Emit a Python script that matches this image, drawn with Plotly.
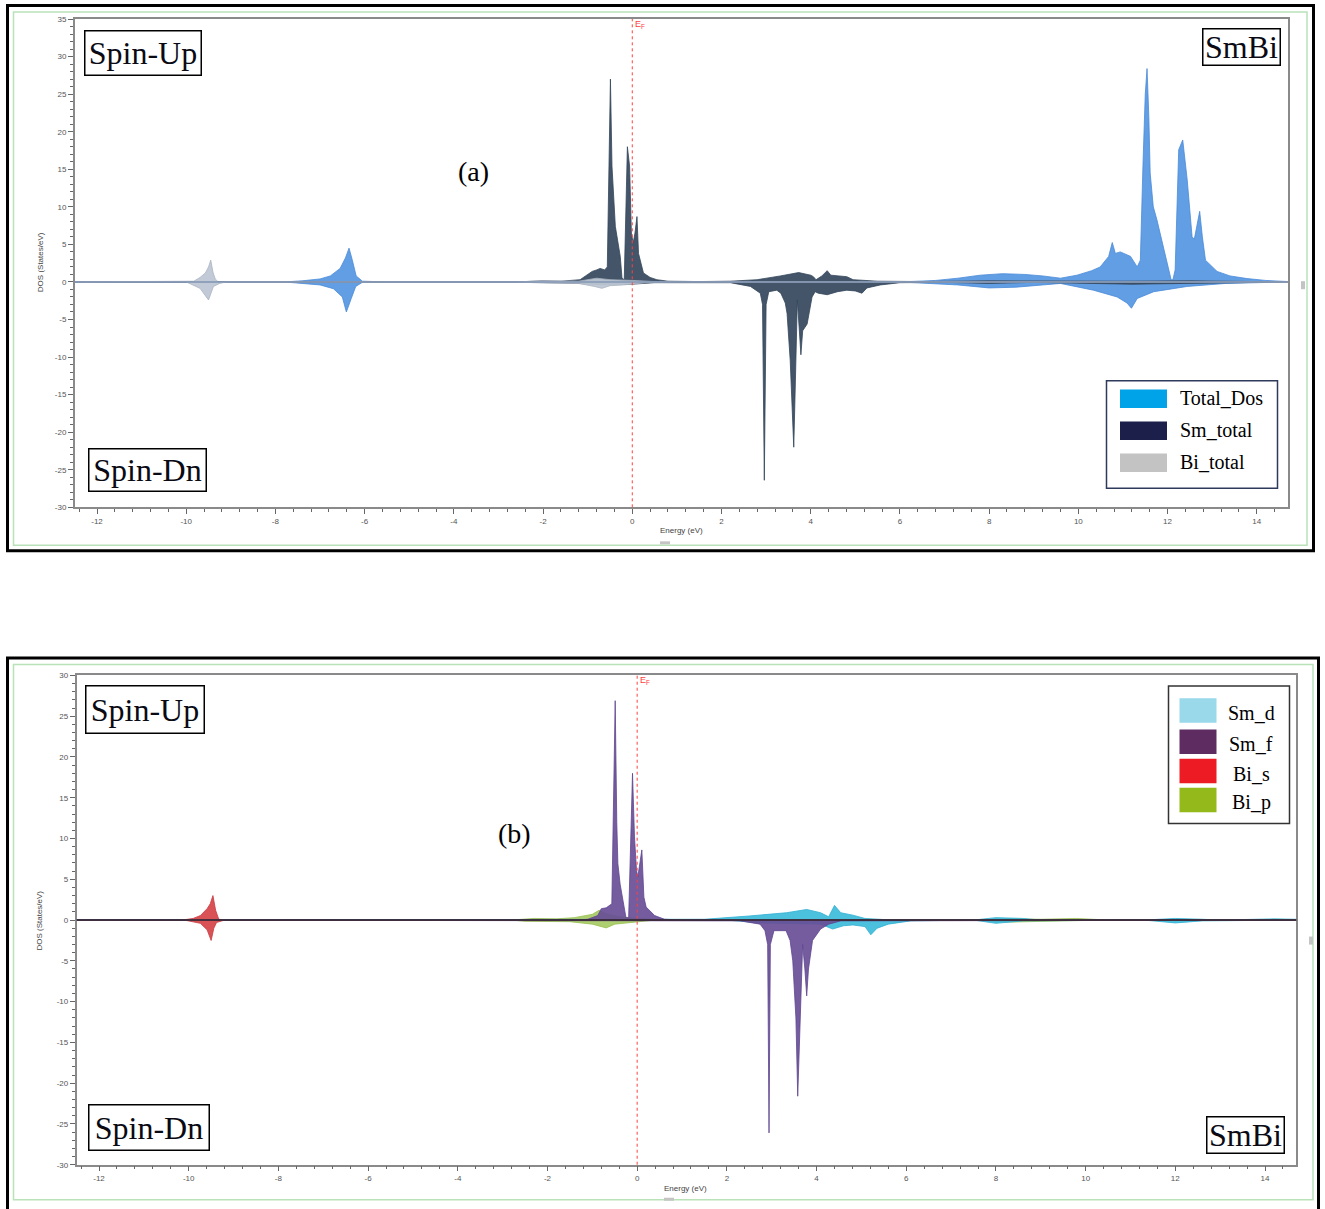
import plotly.graph_objects as go

# ---------------- data ----------------
# Panel (a): spin-up (positive) and spin-down (negative) DOS, states/eV
TOTAL_UP_E = [-12.5, -7.8, -7.4, -7.0, -6.77, -6.55, -6.43, -6.35, -6.28, -6.19, -6.05, -5.5,
              6.0, 6.8, 7.3, 7.8, 8.3, 8.8, 9.2, 9.6, 9.97, 10.3, 10.49, 10.68, 10.76, 10.83, 10.94,
              11.17, 11.32, 11.39, 11.45, 11.5, 11.54, 11.58, 11.61, 11.68, 11.76, 11.87, 11.98,
              12.08, 12.12, 12.17, 12.25, 12.34, 12.44, 12.55, 12.6, 12.66, 12.72, 12.78, 12.85,
              13.11, 13.4, 13.78, 14.2, 14.7]
TOTAL_UP = [0, 0, 0.15, 0.4, 0.8, 1.8, 3.2, 4.5, 3.0, 0.8, 0.1, 0,
            0, 0.2, 0.5, 0.9, 1.1, 1.0, 0.8, 0.5, 0.9, 1.5, 2.0, 3.4, 5.25, 3.8, 4.0,
            3.4, 2.0, 2.9, 15.8, 25.0, 28.4, 22.0, 14.5, 10.0, 8.3, 5.6, 2.9,
            0.3, 0.3, 1.6, 17.6, 18.9, 13.6, 6.0, 5.7, 7.5, 9.4, 6.0, 2.9,
            1.4, 0.8, 0.45, 0.2, 0.05]
TOTAL_DN_E = [-12.5, -7.8, -7.0, -6.7, -6.5, -6.41, -6.3, -6.2, -6.05, -5.5,
              6.0, 6.8, 7.3, 8.0, 8.6, 9.2, 9.6, 10.34, 10.87, 11.09, 11.19, 11.32, 11.69,
              12.44, 13.3, 14.0, 14.7]
TOTAL_DN = [0, 0, -0.4, -0.9, -2.0, -4.0, -2.2, -0.6, -0.05, 0,
            0, -0.2, -0.4, -0.8, -0.7, -0.4, -0.2, -1.1, -2.0, -2.8, -3.5, -2.2, -1.3,
            -0.6, -0.2, -0.1, 0]

SM_UP_E = [-12.5, -2.6, -2.0, -1.6, -1.17, -0.9, -0.8, -0.72, -0.62, -0.56, -0.49, -0.455,
           -0.38, -0.27, -0.23, -0.18, -0.11, -0.06, -0.02, 0.02, 0.06, 0.105, 0.14, 0.25,
           0.4, 0.55, 0.8, 1.5, 2.2, 2.8, 3.32, 3.73, 4.0, 4.06, 4.12, 4.25, 4.37, 4.45,
           4.81, 4.95, 5.5, 6.5, 8.0, 9.0, 11.0, 12.5, 14.7]
SM_UP = [0, 0, 0.15, 0.1, 0.3, 1.4, 1.6, 1.8, 1.6, 2.0, 27.0, 15.4,
         7.4, 3.4, 0.5, 0.3, 18.0, 15.4, 6.5, 5.2, 6.5, 8.7, 3.8, 1.2,
         0.6, 0.3, 0.1, 0.05, 0.1, 0.3, 0.8, 1.25, 0.9, 0.7, 0.3, 0.8, 1.5, 0.9,
         0.7, 0.3, 0.1, 0.05, 0.15, 0.1, 0.1, 0.15, 0]
SM_DN_E = [-12.5, -2.5, -1.2, -0.7, -0.3, 0.0, 0.5, 1.5, 2.2, 2.65, 2.87, 2.92, 2.96, 3.0,
           3.06, 3.24, 3.33, 3.43, 3.47, 3.54, 3.60, 3.62, 3.65, 3.685, 3.70, 3.74, 3.78,
           3.82, 3.92, 4.03, 4.1, 4.17, 4.37, 4.6, 4.81, 5.0, 5.15, 5.26, 5.56, 6.0, 7.0,
           8.0, 9.0, 11.2, 12.5, 14.7]
SM_DN = [0, 0, -0.2, -0.4, -0.3, -0.3, -0.1, -0.05, -0.1, -0.6, -1.5, -3.0, -26.4, -3.0,
         -1.3, -1.1, -1.5, -2.8, -4.2, -10.4, -19.3, -22.0, -14.8, -6.0, -2.4, -6.0, -9.7,
         -6.5, -5.6, -2.0, -1.3, -1.5, -1.7, -1.3, -1.1, -1.2, -1.5, -0.8, -0.4, -0.1, -0.05,
         -0.2, -0.05, -0.3, -0.2, 0]

BI_UP_E = [-12.5, -10.02, -9.83, -9.69, -9.57, -9.50, -9.45, -9.40, -9.35, -9.28,
           -2.6, -2.0, -1.2, -0.8, -0.5, 0.0, 0.5, 1.0, 14.7]
BI_UP = [0, 0, 0.1, 0.6, 1.2, 2.0, 2.9, 1.3, 0.4, 0,
         0, 0.15, 0.1, 0.5, 0.3, 0.2, 0.05, 0, 0]
BI_DN_E = [-12.5, -10.0, -9.69, -9.5, -9.39, -9.25, -9.1,
           -2.6, -2.0, -1.2, -0.85, -0.68, -0.5, -0.2, 0.3, 1.0, 14.7]
BI_DN = [0, 0, -0.85, -2.4, -0.6, -0.2, 0,
         0, -0.15, -0.2, -0.6, -0.85, -0.5, -0.4, -0.1, 0, 0]

# Panel (b): orbital projected DOS
SMD_UP_E = [-12.5, 1.5, 2.5, 3.33, 3.78, 4.09, 4.27, 4.40, 4.54, 4.81, 5.08, 5.7,
            7.5, 8.0, 8.6, 9.0, 11.3, 12.0, 12.6, 13.0, 14.2, 14.7]
SMD_UP = [0, 0.1, 0.5, 0.9, 1.3, 0.9, 0.4, 1.8, 0.9, 0.6, 0.2, 0,
          0, 0.3, 0.2, 0, 0, 0.2, 0.1, 0, 0.15, 0.1]
SMD_DN_E = [-12.5, 2.0, 2.74, 3.5, 4.09, 4.36, 4.6, 4.81, 5.08, 5.21, 5.35, 5.6, 6.1,
            7.5, 8.0, 8.6, 11.3, 12.0, 12.6, 14.7]
SMD_DN = [0, 0, -0.35, -0.4, -0.5, -1.1, -0.7, -0.6, -0.8, -1.8, -1.0, -0.5, -0.1,
          0, -0.4, -0.1, 0, -0.35, -0.1, 0]

SMF_UP_E = [-12.5, -1.3, -1.1, -0.88, -0.80, -0.69, -0.565, -0.49, -0.455, -0.43, -0.38,
            -0.25, -0.19, -0.104, -0.06, -0.015, 0.015, 0.104, 0.15, 0.2, 0.39, 0.61, 1.0, 14.7]
SMF_UP = [0, 0, 0.1, 0.55, 1.4, 1.5, 2.0, 26.9, 12.0, 6.9, 4.4,
          0.3, 0.3, 18.0, 10.2, 6.1, 5.3, 8.6, 2.8, 1.6, 0.55, 0.1, 0, 0]
SMF_DN_E = [-12.5, 2.3, 2.74, 2.85, 2.91, 2.94, 2.97, 3.05, 3.32, 3.41, 3.47, 3.54, 3.58,
            3.62, 3.66, 3.69, 3.74, 3.78, 3.82, 3.91, 4.09, 4.27, 4.54, 14.7]
SMF_DN = [0, -0.1, -0.5, -1.3, -3.0, -26.1, -3.0, -1.3, -1.3, -2.5, -5.0, -12.0, -21.6,
          -14.0, -6.0, -3.0, -6.0, -9.3, -6.0, -2.5, -1.1, -0.5, -0.1, 0]

BIS_UP_E = [-12.5, -10.15, -9.9, -9.74, -9.59, -9.52, -9.46, -9.40, -9.33, -9.2, 14.7]
BIS_UP = [0, 0, 0.2, 0.55, 1.4, 2.0, 3.0, 1.2, 0.1, 0, 0]
BIS_DN_E = [-12.5, -10.1, -9.74, -9.59, -9.5, -9.44, -9.38, -9.2, 14.7]
BIS_DN = [0, 0, -0.4, -1.2, -2.5, -1.0, -0.3, 0, 0]

BIP_UP_E = [-12.5, -2.8, -2.3, -1.8, -1.4, -1.0, -0.85, -0.7, -0.4, 0.0, 0.5,
            7.5, 8.3, 9.0, 9.8, 10.5, 14.7]
BIP_UP = [0, 0, 0.2, 0.15, 0.3, 0.7, 1.2, 0.8, 0.4, 0.2, 0,
          0, 0.15, 0.1, 0.2, 0, 0]
BIP_DN_E = [-12.5, -2.8, -2.5, -1.5, -1.0, -0.69, -0.5, -0.1, 0.4,
            7.5, 8.3, 9.5, 10.5, 14.7]
BIP_DN = [0, 0, -0.15, -0.2, -0.5, -0.96, -0.5, -0.3, 0,
          0, -0.25, -0.1, 0, 0]

X_TICKS = [-12, -10, -8, -6, -4, -2, 0, 2, 4, 6, 8, 10, 12, 14]
Y_TICKS_A = [35, 30, 25, 20, 15, 10, 5, 0, -5, -10, -15, -20, -25, -30]
Y_TICKS_B = [30, 25, 20, 15, 10, 5, 0, -5, -10, -15, -20, -25, -30]

LEGEND_A = ["Total_Dos", "Sm_total", "Bi_total"]
LEGEND_A_COLORS = ["#00A2E8", "#1B1F4A", "#C3C3C3"]
LEGEND_B = ["Sm_d", "Sm_f", "Bi_s", "Bi_p"]
LEGEND_B_COLORS = ["#99D9EA", "#5F2C62", "#ED1C24", "#93BA1A"]

# ---------------- figure ----------------
# the plot div is pinned to the page corner (see post_script); measured mapping of the
# capture: y_capture = OFF_Y + SCALE_Y * y_figure
OFF_X = 0
OFF_Y, SCALE_Y = 4.0, 0.992
W, H = 1325, 1219


def px(x):
    return (x - OFF_X) / W


def py(y):
    return 1 - ((y - OFF_Y) / SCALE_Y) / H


def area(x, y, fill, line, xa, ya):
    return go.Scatter(x=x, y=y, mode="lines", fill="tozeroy", fillcolor=fill,
                      line=dict(color=line, width=0.8), xaxis=xa, yaxis=ya,
                      showlegend=False, hoverinfo="skip")


fig = go.Figure()
# panel (a)
TOT_F, TOT_L = "rgba(84,150,226,0.92)", "#4a8ad8"
SM_F, SM_L = "rgba(58,76,98,0.95)", "#34465a"
BI_F, BI_L = "rgba(190,199,212,0.95)", "#aab4c2"
fig.add_trace(area(TOTAL_UP_E, TOTAL_UP, TOT_F, TOT_L, "x", "y"))
fig.add_trace(area(TOTAL_DN_E, TOTAL_DN, TOT_F, TOT_L, "x", "y"))
fig.add_trace(area(SM_UP_E, SM_UP, SM_F, SM_L, "x", "y"))
fig.add_trace(area(SM_DN_E, SM_DN, SM_F, SM_L, "x", "y"))
fig.add_trace(area(BI_UP_E, BI_UP, BI_F, BI_L, "x", "y"))
fig.add_trace(area(BI_DN_E, BI_DN, BI_F, BI_L, "x", "y"))
# panel (b)
BIP_F, BIP_L = "rgba(165,202,95,0.9)", "#98c050"
SMD_F, SMD_L = "rgba(56,186,218,0.9)", "#2eaed0"
SMF_F, SMF_L = "rgba(104,78,150,0.92)", "#5e4590"
BIS_F, BIS_L = "rgba(214,68,72,0.92)", "#c83a40"
fig.add_trace(area(BIP_UP_E, BIP_UP, BIP_F, BIP_L, "x2", "y2"))
fig.add_trace(area(BIP_DN_E, BIP_DN, BIP_F, BIP_L, "x2", "y2"))
fig.add_trace(area(SMD_UP_E, SMD_UP, SMD_F, SMD_L, "x2", "y2"))
fig.add_trace(area(SMD_DN_E, SMD_DN, SMD_F, SMD_L, "x2", "y2"))
fig.add_trace(area(SMF_UP_E, SMF_UP, SMF_F, SMF_L, "x2", "y2"))
fig.add_trace(area(SMF_DN_E, SMF_DN, SMF_F, SMF_L, "x2", "y2"))
fig.add_trace(area(BIS_UP_E, BIS_UP, BIS_F, BIS_L, "x2", "y2"))
fig.add_trace(area(BIS_DN_E, BIS_DN, BIS_F, BIS_L, "x2", "y2"))

tickfont = dict(size=8, color="#555", family="Liberation Sans, Arial")
axis_common = dict(showgrid=False, zeroline=False, showline=True, linecolor="#8a8a8a",
                   linewidth=1.5, mirror=True, ticks="outside", ticklen=5, tickwidth=1,
                   tickcolor="#666", tickfont=tickfont, layer="above traces")
xcommon = dict(axis_common, tickvals=X_TICKS, ticktext=[str(v) for v in X_TICKS],
               range=[-12.5, 14.7],
               minor=dict(dtick=0.4, tick0=0, ticklen=3, tickcolor="#666", ticks="outside"))

fig.update_layout(
    width=W, height=H, margin=dict(l=0, r=0, t=0, b=0),
    paper_bgcolor="white", plot_bgcolor="white", showlegend=False,
    xaxis=dict(xcommon, domain=[px(74.7), px(1288)], anchor="y"),
    yaxis=dict(axis_common, domain=[py(507), py(19)], range=[-30, 35], anchor="x",
               tickvals=Y_TICKS_A, ticktext=[str(v) for v in Y_TICKS_A],
               minor=dict(dtick=1, tick0=0, ticklen=3, tickcolor="#666", ticks="outside")),
    xaxis2=dict(xcommon, domain=[px(76.6), px(1296.4)], anchor="y2"),
    yaxis2=dict(axis_common, domain=[py(1164), py(675)], range=[-30, 30], anchor="x2",
                tickvals=Y_TICKS_B, ticktext=[str(v) for v in Y_TICKS_B],
                minor=dict(dtick=1, tick0=0, ticklen=3, tickcolor="#666", ticks="outside")),
)


def prect(x0, y0, x1, y1, **kw):
    return dict(type="rect", xref="paper", yref="paper", x0=px(x0), x1=px(x1),
                y0=py(y1), y1=py(y0), **kw)


shapes = []
# outer frames
shapes.append(prect(7.5, 5.5, 1313.5, 550.5, line=dict(color="black", width=3)))
shapes.append(prect(13.5, 12, 1307, 545, line=dict(color="#b9e2b9", width=1.5)))
shapes.append(prect(7.5, 657.5, 1318.5, 1216, line=dict(color="black", width=3)))
shapes.append(prect(13.5, 664, 1313, 1199, line=dict(color="#b9e2b9", width=1.5)))
# small window handles of the original screenshot
for (a, b, c, d) in [(1301, 281, 1305, 289), (660, 541, 670, 544),
                     (1309, 936, 1313, 944), (664, 1197, 674, 1200)]:
    shapes.append(prect(a, b, c, d, line=dict(width=0), fillcolor="#c4c4c4"))
# zero lines
shapes.append(dict(type="line", xref="x domain", yref="y", x0=0, x1=1, y0=0, y1=0,
                   line=dict(color="#8396b4", width=1.6), layer="above"))
shapes.append(dict(type="line", xref="x2 domain", yref="y2", x0=0, x1=1, y0=0, y1=0,
                   line=dict(color="#1c2636", width=1.5), layer="above"))
# Fermi level
shapes.append(dict(type="line", xref="x", yref="y domain", x0=0, x1=0, y0=0, y1=1,
                   line=dict(color="#ff4040", width=1, dash="dot"), layer="above"))
shapes.append(dict(type="line", xref="x2", yref="y2 domain", x0=0, x1=0, y0=0, y1=1,
                   line=dict(color="#ff4040", width=1, dash="dot"), layer="above"))

serif = "Liberation Serif, Times New Roman"
annotations = []
# legend (a)
shapes.append(prect(1106.5, 380.5, 1277.5, 488, line=dict(color="#2e3a5c", width=1.5),
                    fillcolor="white", layer="above"))
for i, (name, col) in enumerate(zip(LEGEND_A, LEGEND_A_COLORS)):
    yt = 389.3 + i * 32
    shapes.append(prect(1120, yt, 1167, yt + 18.5, line=dict(width=0), fillcolor=col,
                        layer="above"))
    annotations.append(dict(xref="paper", yref="paper", x=px(1178), y=py(yt + 8.5),
                            xanchor="left", yanchor="middle", showarrow=False, text=name,
                            font=dict(family=serif, size=20, color="black")))
# legend (b)
shapes.append(prect(1168.5, 685.5, 1289.5, 823, line=dict(color="#333", width=1.5),
                    fillcolor="white", layer="above"))
for i, (name, col) in enumerate(zip(LEGEND_B, LEGEND_B_COLORS)):
    yt = [697.7, 729, 758.3, 787.3][i]
    shapes.append(prect(1179.5, yt, 1216.5, yt + 24.5, line=dict(width=0), fillcolor=col,
                        layer="above"))
    annotations.append(dict(xref="paper", yref="paper", x=px(1251), y=py(yt + 15),
                            xanchor="center", yanchor="middle", showarrow=False, text=name,
                            font=dict(family=serif, size=20, color="black")))

fig.update_layout(shapes=shapes)


def boxlabel(text, x0, y0, x1, y1, size=32):
    return dict(xref="paper", yref="paper", x=px(x0), y=py(y0), xanchor="left",
                yanchor="top", showarrow=False, text=text,
                width=(x1 - x0) - 5, height=(y1 - y0) - 5, borderpad=1,
                bordercolor="black", borderwidth=1.5, bgcolor="white",
                font=dict(family=serif, size=size, color="#0a0a14"))


def label(text, x, y, size, color="black", family=serif, angle=0):
    return dict(xref="paper", yref="paper", x=px(x), y=py(y), xanchor="center",
                yanchor="middle", showarrow=False, text=text, textangle=angle,
                font=dict(family=family, size=size, color=color))


sans = "Liberation Sans, Arial"
annotations += [
    boxlabel("Spin-Up", 84, 30, 202, 76),
    boxlabel("Spin-Dn", 88, 448, 207, 492),
    boxlabel("SmBi", 1202, 28, 1281, 66),
    boxlabel("Spin-Up", 85, 685, 205, 734),
    boxlabel("Spin-Dn", 88, 1103, 210, 1150),
    boxlabel("SmBi", 1206, 1115, 1285, 1153),
    label("(a)", 473, 171, 28),
    label("(b)", 514, 833, 28),
    dict(xref="x", yref="paper", x=0, y=py(17), xanchor="left", yanchor="top",
         xshift=1, showarrow=False, text="E<sub>F</sub>",
         font=dict(size=9, color="#ff4040", family=sans)),
    dict(xref="x2", yref="paper", x=0, y=py(673), xanchor="left", yanchor="top",
         xshift=1, showarrow=False, text="E<sub>F</sub>",
         font=dict(size=9, color="#ff4040", family=sans)),
    label("DOS (States/eV)", 40, 262, 8, "#444", sans, -90),
    label("DOS (States/eV)", 40, 920, 8, "#444", sans, -90),
    label("Energy (eV)", 681, 530, 8, "#444", sans),
    label("Energy (eV)", 685, 1188, 8, "#444", sans),
]
fig.update_layout(annotations=annotations)

PIN_DIV = ("var d=document.getElementById('{plot_id}');"
           "d.style.position='absolute';d.style.left='0px';d.style.top='0px';"
           "document.body.style.margin='0px';")
fig.write_html("out.html", post_script=PIN_DIV, config={"displayModeBar": False})
